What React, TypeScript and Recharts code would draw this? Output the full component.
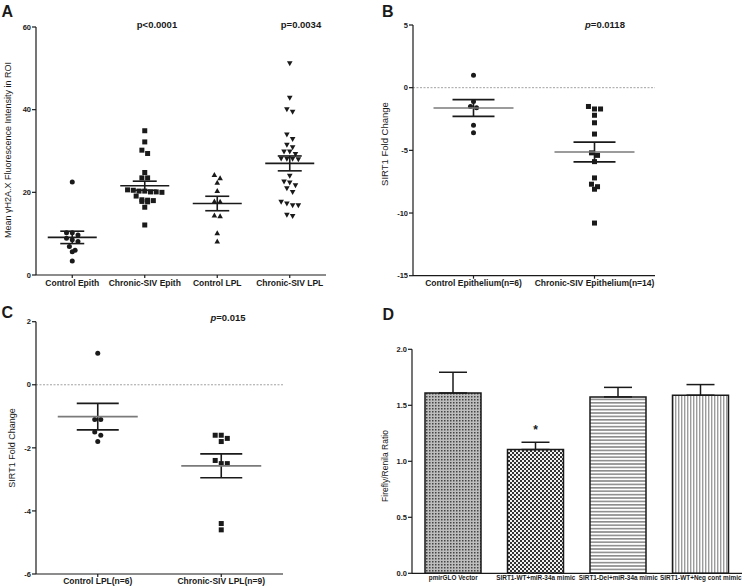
import React from "react";
import {
  ScatterChart,
  Scatter,
  BarChart,
  Bar,
  Cell,
  XAxis,
  YAxis,
  ErrorBar,
  ReferenceLine,
  LabelList,
} from "recharts";

const FONT = '"Liberation Sans", Arial, Helvetica, sans-serif';
const INK = "#1a1a1a";

// ---- A: mean γH2A.X fluorescence intensity in ROI
const groupsA = ["Control Epith", "Chronic-SIV Epith", "Control LPL", "Chronic-SIV LPL"];
const controlEpith = [22.5, 10.2, 10.2, 9.7, 8.9, 8.5, 8.1, 6.9, 6.0, 5.6, 3.4];
const chronicEpith = [
  34.9, 32.2, 30.2, 29.4, 24.8, 23.5, 23.5, 20.6, 20.5, 20.3, 20.3, 20.1, 20.1, 20.0,
  19.1, 18.2, 18.1, 18.0, 17.8, 17.7, 16.4, 12.1,
];
const controlLpl = [24.2, 23.4, 22.3, 20.3, 17.8, 17.7, 14.4, 14.2, 10.1, 8.1];
const chronicLpl = [
  51.2, 42.9, 40.1, 39.5, 34.0, 32.9, 31.5, 30.9, 29.9, 29.9, 29.3, 28.2, 28.1, 28.1,
  28.0, 24.0, 22.6, 22.4, 21.7, 21.0, 20.1, 17.7, 17.3, 16.9, 16.9, 14.6, 14.3,
];
const meansA = [9.1, 21.6, 17.3, 27.0];
const semA = [1.5, 1.1, 1.75, 1.8];
const ticksA = [0, 20, 40, 60];
const pValuesA = ["p<0.0001", "p=0.0034"];

// ---- B: SIRT1 fold change, epithelium
const groupsB = ["Control Epithelium(n=6)", "Chronic-SIV Epithelium(n=14)"];
const controlEpiB = [1.0, -1.1, -1.5, -1.6, -3.0, -3.6];
const chronicEpiB = [-1.5, -1.7, -1.7, -2.2, -2.8, -3.7, -5.2, -5.4, -5.9, -7.2, -7.7, -7.9, -8.1, -10.8];
const meansB = [-1.62, -5.13];
const semB = [0.67, 0.79];
const ticksB = [-15, -10, -5, 0, 5];

// ---- C: SIRT1 fold change, LPL
const groupsC = ["Control LPL(n=6)", "Chronic-SIV LPL(n=9)"];
const controlLplC = [1.0, -1.1, -1.1, -1.5, -1.6, -1.8];
const chronicLplC = [-1.6, -1.6, -1.7, -1.8, -2.4, -2.5, -2.5, -4.4, -4.6];
const meansC = [-1.01, -2.57];
const semC = [0.42, 0.38];
const ticksC = [-6, -4, -2, 0, 2];

// ---- D: luciferase reporter
const groupsD = ["pmirGLO Vector", "SIRT1-WT+miR-34a mimic", "SIRT1-Del+miR-34a mimic", "SIRT1-WT+Neg cont mimic"];
const ratioD = [1.61, 1.105, 1.575, 1.59];
const semD = [0.185, 0.065, 0.085, 0.095];
const sigD = ["", "*", "", ""];
const ticksD = [0, 0.5, 1, 1.5, 2];

type Pt = { x: number; y: number };

// column scatter like Prism: close values get spread out sideways in a row
function swarm(values: number[], col: number, rowTol: number, step: number): Pt[] {
  const sorted = [...values].sort((a, b) => b - a);
  const rows: number[][] = [];
  sorted.forEach((v) => {
    const row = rows[rows.length - 1];
    if (row && row[0] - v < rowTol - 1e-9) row.push(v);
    else rows.push([v]);
  });
  const pts: Pt[] = [];
  rows.forEach((row) =>
    row.forEach((v, i) => pts.push({ x: col + (i - (row.length - 1) / 2) * step, y: v }))
  );
  return pts;
}

const dot = (p: any) => <circle cx={p.cx} cy={p.cy} r={2.5} fill={INK} />;
const square = (p: any) => <rect x={p.cx - 2.5} y={p.cy - 2.5} width={5} height={5} fill={INK} />;
const triUp = (p: any) => (
  <path d={`M${p.cx},${p.cy - 3}L${p.cx + 2.8},${p.cy + 2}L${p.cx - 2.8},${p.cy + 2}Z`} fill={INK} />
);
const triDown = (p: any) => (
  <path d={`M${p.cx},${p.cy + 3}L${p.cx + 2.8},${p.cy - 2}L${p.cx - 2.8},${p.cy - 2}Z`} fill={INK} />
);
const meanLine = (half: number, color: string) => (p: any) =>
  <line x1={p.cx - half} x2={p.cx + half} y1={p.cy} y2={p.cy} stroke={color} strokeWidth={1.6} />;

const axisLine = { stroke: INK, strokeWidth: 1.2 };
const numTick = { fontSize: 7.5, fontWeight: 700, fill: INK };
const catTick = { fontSize: 8.5, fontWeight: 700, fill: INK };

function PanelA() {
  const series = [controlEpith, chronicEpith, controlLpl, chronicLpl];
  const shapes = [dot, square, triUp, triDown];
  const stats = meansA.map((m, i) => ({ x: i + 1, y: m, sem: semA[i] }));
  return (
    <ScatterChart width={372} height={300} margin={{ top: 27, right: 46, bottom: 5, left: 0 }}>
      <XAxis
        type="number"
        dataKey="x"
        domain={[0.5, 4.5]}
        ticks={[1, 2, 3, 4]}
        interval={0}
        tickFormatter={(v) => groupsA[Math.round(v) - 1]}
        height={20}
        tick={catTick}
        tickSize={3}
        tickMargin={2}
        axisLine={axisLine}
        tickLine={axisLine}
      />
      <YAxis
        type="number"
        dataKey="y"
        domain={[0, 60]}
        ticks={ticksA}
        interval={0}
        width={36}
        tick={numTick}
        tickSize={4}
        tickMargin={1}
        axisLine={axisLine}
        tickLine={axisLine}
      />
      {series.map((vals, i) => (
        <Scatter key={i} data={swarm(vals, i + 1, 1.2, 0.079)} shape={shapes[i]} isAnimationActive={false} />
      ))}
      <Scatter data={stats} shape={meanLine(24.5, INK)} isAnimationActive={false}>
        <ErrorBar dataKey="sem" direction="y" width={12} stroke={INK} strokeWidth={1.6} />
      </Scatter>
    </ScatterChart>
  );
}

function FoldPanel(props: {
  width: number;
  height: number;
  margin: any;
  yWidth: number;
  xHeight: number;
  groups: string[];
  control: number[];
  chronic: number[];
  means: number[];
  sem: number[];
  ticks: number[];
  rowTol: number;
  step: number;
}) {
  const { groups, ticks } = props;
  const stats = props.means.map((m, i) => ({ x: i + 1, y: m, sem: props.sem[i] }));
  return (
    <ScatterChart width={props.width} height={props.height} margin={props.margin}>
      <XAxis
        type="number"
        dataKey="x"
        domain={[0.5, 2.5]}
        ticks={[1, 2]}
        interval={0}
        tickFormatter={(v) => groups[Math.round(v) - 1]}
        height={props.xHeight}
        tick={catTick}
        tickSize={3}
        tickMargin={1}
        axisLine={axisLine}
        tickLine={axisLine}
      />
      <YAxis
        type="number"
        dataKey="y"
        domain={[ticks[0], ticks[ticks.length - 1]]}
        ticks={ticks}
        interval={0}
        width={props.yWidth}
        tick={numTick}
        tickSize={4}
        tickMargin={1}
        axisLine={axisLine}
        tickLine={axisLine}
      />
      <ReferenceLine y={0} stroke="#8a8a8a" strokeWidth={0.8} strokeDasharray="2 1.5" />
      <Scatter data={swarm(props.control, 1, props.rowTol, props.step)} shape={dot} isAnimationActive={false} />
      <Scatter data={swarm(props.chronic, 2, props.rowTol, props.step)} shape={square} isAnimationActive={false} />
      <Scatter data={stats} shape={meanLine(40, "#7a7a7a")} isAnimationActive={false}>
        <ErrorBar dataKey="sem" direction="y" width={21} stroke={INK} strokeWidth={1.6} />
      </Scatter>
    </ScatterChart>
  );
}

function PanelD() {
  const data = groupsD.map((name, i) => ({ name, ratio: ratioD[i], err: [0, semD[i]], sig: sigD[i] }));
  return (
    <BarChart
      width={373}
      height={287}
      data={data}
      margin={{ top: 49.3, right: 3, bottom: 1.7, left: 0 }}
      barSize={56}
    >
      <defs>
        <pattern id="fillD0" width="3" height="3" patternUnits="userSpaceOnUse">
          <rect width="3" height="3" fill="#bdbdbd" />
          <rect width="1.5" height="1.5" fill="#444" />
        </pattern>
        <pattern id="fillD1" width="4" height="4" patternUnits="userSpaceOnUse">
          <rect width="4" height="4" fill="#f2f2f2" />
          <rect width="2" height="2" fill="#333" />
          <rect x="2" y="2" width="2" height="2" fill="#333" />
        </pattern>
        <pattern id="fillD2" width="3" height="3.4" patternUnits="userSpaceOnUse">
          <rect width="3" height="3.4" fill="#fff" />
          <rect width="3" height="1.6" fill="#8c8c8c" />
        </pattern>
        <pattern id="fillD3" width="3" height="3" patternUnits="userSpaceOnUse">
          <rect width="3" height="3" fill="#fff" />
          <rect width="1.4" height="3" fill="#9c9c9c" />
        </pattern>
      </defs>
      <XAxis
        dataKey="name"
        height={12}
        interval={0}
        tick={{ fontSize: 6.4, fontWeight: 700, fill: INK }}
        tickLine={false}
        tickSize={0}
        tickMargin={2}
        axisLine={axisLine}
      />
      <YAxis
        domain={[0, 2]}
        ticks={ticksD}
        interval={0}
        tickFormatter={(v) => Number(v).toFixed(1)}
        width={40}
        tick={numTick}
        tickSize={4}
        tickMargin={1}
        axisLine={axisLine}
        tickLine={axisLine}
      />
      <Bar dataKey="ratio" stroke={INK} strokeWidth={1.5} isAnimationActive={false}>
        {data.map((_, i) => (
          <Cell key={i} fill={`url(#fillD${i})`} />
        ))}
        <ErrorBar dataKey="err" direction="y" width={14} stroke={INK} strokeWidth={1.5} />
        <LabelList dataKey="sig" position="top" offset={16} fontSize={12} fontWeight={700} fill={INK} />
      </Bar>
    </BarChart>
  );
}

export default function App() {
  return (
    <div
      style={{
        position: "absolute",
        left: 0,
        top: 0,
        width: 745,
        height: 587,
        background: "#fff",
        fontFamily: FONT,
      }}
    >
      <div style={{ position: "absolute", left: 0, top: 0 }}>
        <PanelA />
      </div>
      <div style={{ position: "absolute", left: 372, top: 0 }}>
        <FoldPanel
          width={373}
          height={300}
          margin={{ top: 25, right: 90, bottom: 4.3, left: 0 }}
          yWidth={41}
          xHeight={20}
          groups={groupsB}
          control={controlEpiB}
          chronic={chronicEpiB}
          means={meansB}
          sem={semB}
          ticks={ticksB}
          rowTol={0.4}
          step={0.05}
        />
      </div>
      <div style={{ position: "absolute", left: 0, top: 300 }}>
        <FoldPanel
          width={372}
          height={287}
          margin={{ top: 21.7, right: 89, bottom: 1, left: 0 }}
          yWidth={36}
          xHeight={12}
          groups={groupsC}
          control={controlLplC}
          chronic={chronicLplC}
          means={meansC}
          sem={semC}
          ticks={ticksC}
          rowTol={0.16}
          step={0.049}
        />
      </div>
      <div style={{ position: "absolute", left: 372, top: 300 }}>
        <PanelD />
      </div>

      <svg
        width={745}
        height={587}
        style={{ position: "absolute", left: 0, top: 0, pointerEvents: "none" }}
        fontFamily={FONT}
        fill={INK}
      >
        <text x={1.5} y={16.7} fontSize={16} fontWeight="bold">A</text>
        <text x={382} y={16.7} fontSize={16} fontWeight="bold">B</text>
        <text x={1.5} y={318.3} fontSize={16} fontWeight="bold">C</text>
        <text x={382.5} y={320} fontSize={16} fontWeight="bold">D</text>

        <text transform="translate(8,150) rotate(-90)" textAnchor="middle" dominantBaseline="central" fontSize={9}>
          Mean γH2A.X Fluorescence Intensity in ROI
        </text>
        <text transform="translate(384.5,144) rotate(-90)" textAnchor="middle" dominantBaseline="central" fontSize={9.5}>
          SIRT1 Fold Change
        </text>
        <text transform="translate(11.5,448) rotate(-90)" textAnchor="middle" dominantBaseline="central" fontSize={9}>
          SIRT1 Fold Change
        </text>
        <text transform="translate(385,466) rotate(-90)" textAnchor="middle" dominantBaseline="central" fontSize={8.5}>
          Firefly/Renila Ratio
        </text>

        <text x={157} y={27.5} textAnchor="middle" fontSize={9.5} fontWeight="bold">{pValuesA[0]}</text>
        <text x={301} y={27.5} textAnchor="middle" fontSize={9.5} fontWeight="bold">{pValuesA[1]}</text>
        <text x={605} y={27.5} textAnchor="middle" fontSize={9.5} fontWeight="bold">
          <tspan fontStyle="italic">p</tspan>=0.0118
        </text>
        <text x={228} y={320.5} textAnchor="middle" fontSize={9.5} fontWeight="bold">
          <tspan fontStyle="italic">p</tspan>=0.015
        </text>
      </svg>
    </div>
  );
}
